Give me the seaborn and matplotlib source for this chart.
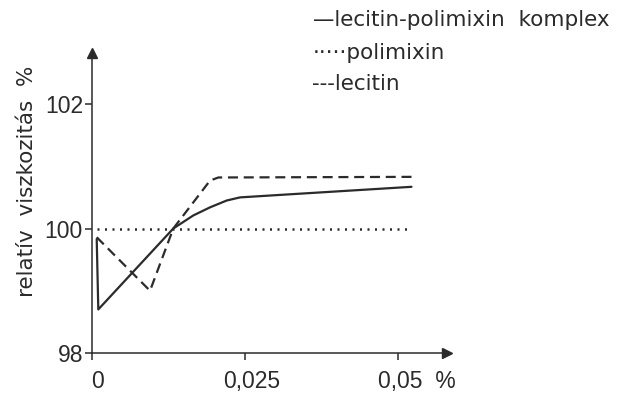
import matplotlib
matplotlib.use("Agg")
import matplotlib.pyplot as plt
import matplotlib.transforms as mtransforms
import seaborn as sns
import pandas as pd

# data
x_komplex = [0.00077, 0.00103, 0.01328, 0.01655, 0.01928, 0.02201, 0.02418, 0.02745, 0.03072, 0.0522]
y_komplex = [99.83, 98.70, 100.0, 100.21, 100.34, 100.45, 100.50, 100.52, 100.54, 100.67]

x_polimixin = [0.0008, 0.0522]
y_polimixin = [100.0, 100.0]

x_lecitin = [0.00077, 0.00948, 0.01328, 0.01928, 0.02064, 0.0522]
y_lecitin = [99.86, 99.0, 100.0, 100.77, 100.82, 100.83]

legend_labels = ["lecitin-polimixin  komplex", "polimixin", "lecitin"]
x_ticks = [0, 0.025, 0.05]
x_ticklabels = ["0", "0,025", "0,05  %"]
y_ticks = [98, 100, 102]
y_label = "relatív  viszkozitás  %"

sns.set_style("white")
plt.rcParams['font.family'] = ['DejaVu Sans']

W, H = 620, 398
fig = plt.figure(figsize=(W / 100, H / 100), dpi=100)
ax = fig.add_axes([92 / W, (H - 353) / H, (447 - 92) / W, (353 - 53) / H])

ink = "#2b2b2b"
lw = 1.6
fs = 15.5
tick_font = ['Liberation Sans', 'DejaVu Sans']

df_k = pd.DataFrame({"x": x_komplex, "y": y_komplex})
df_p = pd.DataFrame({"x": x_polimixin, "y": y_polimixin})
df_l = pd.DataFrame({"x": x_lecitin, "y": y_lecitin})

sns.lineplot(data=df_k, x="x", y="y", ax=ax, color=ink, lw=lw, sort=False, estimator=None)
sns.lineplot(data=df_p, x="x", y="y", ax=ax, color=ink, lw=1.8, sort=False, estimator=None)
ax.lines[-1].set_dashes((0.8, 2.2))
sns.lineplot(data=df_l, x="x", y="y", ax=ax, color=ink, lw=lw, sort=False, estimator=None)
ax.lines[-1].set_dashes((4.5, 2.6))

ax.set_xlim(0, 0.058)
ax.set_ylim(98, 102.82)

for s in ["top", "right"]:
    ax.spines[s].set_visible(False)
for s in ["left", "bottom"]:
    ax.spines[s].set_color(ink)
    ax.spines[s].set_linewidth(1.1)

ax.set_xticks(x_ticks)
ax.set_xticklabels(x_ticklabels)
ax.set_yticks(y_ticks)
ax.tick_params(axis="both", direction="out", length=5, width=1.1, color=ink,
               labelsize=16.5, labelcolor=ink, bottom=True, left=True)
ax.tick_params(axis="x", pad=7)
ax.tick_params(axis="y", pad=1.5)
for lab in ax.get_xticklabels() + ax.get_yticklabels():
    lab.set_family(tick_font)
# x tick labels sit slightly right of their ticks in the reference
for lab, dx in zip(ax.get_xticklabels(), [5, 7, 19]):
    lab.set_transform(lab.get_transform() + mtransforms.ScaledTranslation(dx / 100, 0, fig.dpi_scale_trans))
ax.set_xlabel("")
ax.set_ylabel(y_label, fontsize=fs, color=ink)
ax.yaxis.set_label_coords(-0.155, 0.573)

# arrowheads at axis ends
ax.plot(1, 0, marker=">", color=ink, markersize=7, transform=ax.transAxes, clip_on=False)
ax.plot(0, 1, marker="^", color=ink, markersize=7, transform=ax.transAxes, clip_on=False)

# legend drawn as text, as in the reference
fig.text(313 / W, 1 - 20 / H, "\u2014" + legend_labels[0], fontsize=fs, color=ink, va="center", ha="left")
fig.text(313 / W, 1 - 53 / H, "\u00b7\u00b7\u00b7\u00b7\u00b7" + legend_labels[1], fontsize=fs, color=ink, va="center", ha="left")
fig.text(312 / W, 1 - 84 / H, "---" + legend_labels[2], fontsize=fs, color=ink, va="center", ha="left")

fig.savefig("out.png", dpi=100)
